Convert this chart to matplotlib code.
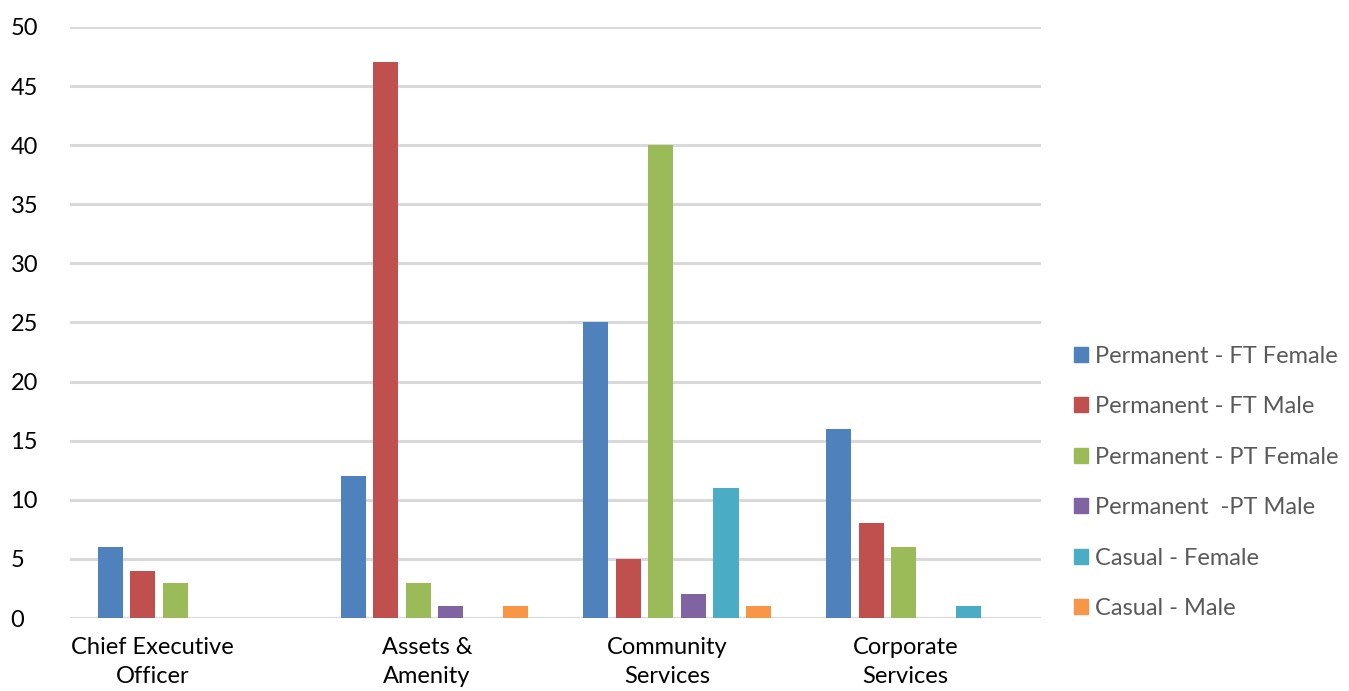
import numpy as np
import matplotlib.pyplot as plt
from matplotlib.patches import Patch

plt.rcParams['font.family'] = ['Lato', 'DejaVu Sans']

departments = ["Chief Executive\nOfficer", "Assets &\nAmenity", "Community\nServices", "Corporate\nServices"]
series_names = ["Permanent - FT Female", "Permanent - FT Male", "Permanent - PT Female",
                "Permanent  -PT Male", "Casual - Female", "Casual - Male"]
ft_female = [6, 12, 25, 16]
ft_male = [4, 47, 5, 8]
pt_female = [3, 3, 40, 6]
pt_male = [0, 1, 2, 0]
casual_female = [0, 0, 11, 1]
casual_male = [0, 1, 1, 0]
y_ticks = [0, 5, 10, 15, 20, 25, 30, 35, 40, 45, 50]

colors = ["#4F81BD", "#C0504D", "#9BBB59", "#8064A2", "#4BACC6", "#F79646"]
series = [ft_female, ft_male, pt_female, pt_male, casual_female, casual_male]

fig = plt.figure(figsize=(13.49, 6.91), dpi=100)
ax = fig.add_axes([0.052, 0.1056, 0.720, 0.8554])

x = np.arange(len(departments))
step = 0.134
width = 0.103
for i, (vals, col) in enumerate(zip(series, colors)):
    ax.bar(x + (i - 2.5) * step, vals, width=width, color=col, zorder=3)

ax.set_ylim(0, 50)
ax.set_xlim(-0.5, len(departments) - 0.5)
ax.set_yticks(y_ticks)
ax.yaxis.grid(True, color="#d9d9d9", linewidth=2.2, zorder=0)
ax.set_axisbelow(True)
for s in ax.spines.values():
    s.set_visible(False)
ax.axhline(0, color="#d9d9d9", linewidth=2.2, zorder=1)
ax.tick_params(axis="both", length=0, labelsize=17, colors="black")
ax.tick_params(axis="y", pad=43)
for lab in ax.get_yticklabels():
    lab.set_horizontalalignment("left")
ax.set_xticks(x - np.array([0.16, 0.03, 0.04, 0.06]))
ax.set_xticklabels(departments, fontsize=17, linespacing=1.45)
ax.tick_params(axis="x", pad=14)

handles = [Patch(facecolor=c, edgecolor=c) for c in colors]
fig.legend(handles, series_names, loc="center left", bbox_to_anchor=(0.796, 0.302),
           frameon=False, fontsize=17, labelcolor="#595959", handlelength=0.6,
           handleheight=0.6, handletextpad=0.3, labelspacing=1.25,
           borderpad=0, borderaxespad=0)

fig.savefig("out.png", dpi=100)
